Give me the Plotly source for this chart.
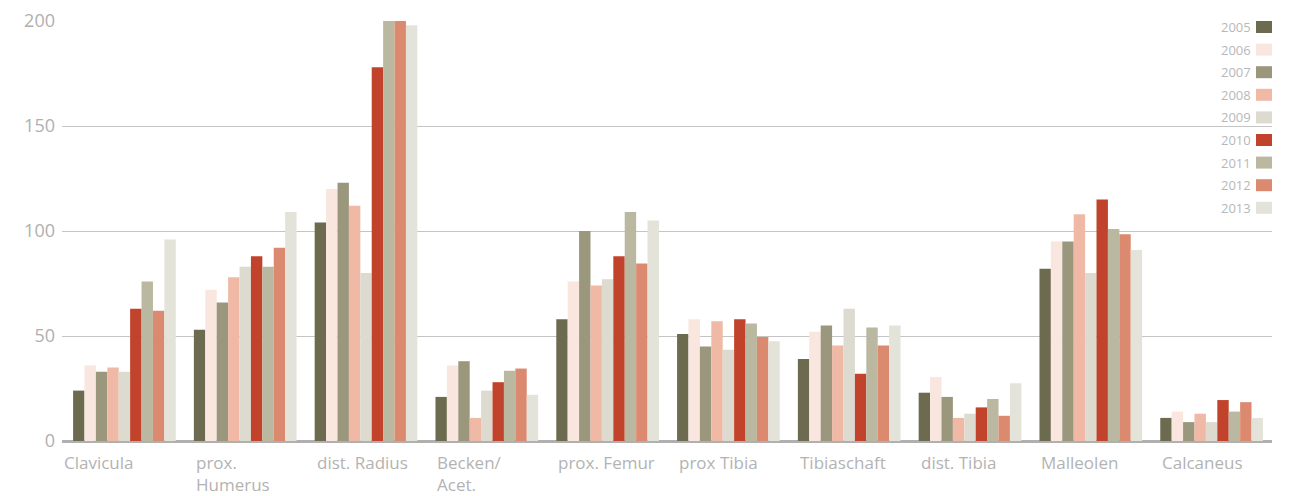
import plotly.graph_objects as go

categories = ["Clavicula", "prox.<br>Humerus", "dist. Radius", "Becken/<br>Acet.", "prox. Femur",
              "prox Tibia", "Tibiaschaft", "dist. Tibia", "Malleolen", "Calcaneus"]
years = ["2005", "2006", "2007", "2008", "2009", "2010", "2011", "2012", "2013"]

v2005 = [24, 53, 104, 21, 58, 51, 39, 23, 82, 11]
v2006 = [36, 72, 120, 36, 76, 58, 52, 30.5, 95, 14]
v2007 = [33, 66, 123, 38, 100, 45, 55, 21, 95, 9]
v2008 = [35, 78, 112, 11, 74, 57, 45.5, 11, 108, 13]
v2009 = [33, 83, 80, 24, 77, 43.5, 63, 13, 80, 9]
v2010 = [63, 88, 178, 28, 88, 58, 32, 16, 115, 19.5]
v2011 = [76, 83, 200, 33.5, 109, 56, 54, 20, 101, 14]
v2012 = [62, 92, 200, 34.5, 84.5, 49.5, 45.5, 12, 98.5, 18.5]
v2013 = [96, 109, 198, 22, 105, 47.5, 55, 27.5, 91, 11]
series = [v2005, v2006, v2007, v2008, v2009, v2010, v2011, v2012, v2013]

colors = ["#6d6b4f", "#f8e6df", "#9b977d", "#efb9a6", "#dddbd0",
          "#c2432b", "#bbb8a1", "#dc8a6f", "#e4e3d9"]

W, H = 1294, 496
ML, MR, MT, MB = 62, 22, 21, 55
pw = W - ML - MR
ph = H - MT - MB

fig = go.Figure()
for name, vals, col in zip(years, series, colors):
    fig.add_trace(go.Bar(x=categories, y=vals, name=name, marker=dict(color=col, line=dict(width=0)),
                         showlegend=False))

font_family = "Open Sans, sans-serif"
label_color = "#b3b3b3"

bargap = 0.15
half_group = (1 - bargap) * pw / len(categories) / 2

annotations = []
for i, c in enumerate(categories):
    annotations.append(dict(x=c, xref="x", y=0, yref="y", text=c, showarrow=False,
                            xanchor="left", yanchor="top", align="left",
                            xshift=-half_group - (11 if i == 0 else 0), yshift=-8,
                            font=dict(family=font_family, size=17, color=label_color)))

# custom legend: text left, swatch right
shapes = []
step = 22.6
for k, (name, col) in enumerate(zip(years, colors)):
    cy = 27 + k * step
    y0 = (MT + ph - (cy + 6)) / ph
    y1 = (MT + ph - (cy - 6)) / ph
    x0 = (1256 - ML) / pw
    x1 = (1272 - ML) / pw
    shapes.append(dict(type="rect", xref="paper", yref="paper", x0=x0, x1=x1, y0=y0, y1=y1,
                       fillcolor=col, line=dict(width=0), layer="above"))
    annotations.append(dict(x=(1253 - ML) / pw, xref="paper", y=(MT + ph - (cy + 11)) / ph, yref="paper",
                            text=name, showarrow=False, xanchor="right", yanchor="bottom",
                            font=dict(family=font_family, size=13, color="#b8b8b8"),
                            bgcolor="rgba(0,0,0,0)"))

fig.update_layout(
    width=W, height=H,
    margin=dict(l=ML, r=MR, t=MT, b=MB, autoexpand=False),
    paper_bgcolor="white", plot_bgcolor="white",
    barmode="group", bargap=bargap, bargroupgap=0,
    xaxis=dict(showticklabels=False, showgrid=False, showline=False, ticks="", automargin=False),
    yaxis=dict(range=[0, 200], tickvals=[0, 50, 100, 150, 200], showgrid=True, automargin=False,
               gridcolor="#c4c4c4", gridwidth=1, zeroline=True, zerolinecolor="#b0b0b0",
               zerolinewidth=2.5, ticks="", ticklabelstandoff=6,
               tickfont=dict(family=font_family, size=18, color="#b0b0b0")),
    annotations=annotations,
    shapes=shapes,
)

fig.write_html("out.html")
